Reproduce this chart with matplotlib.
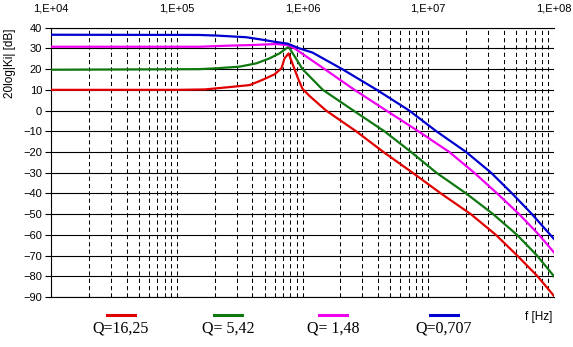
import matplotlib
matplotlib.use('Agg')
import matplotlib.pyplot as plt
from matplotlib.lines import Line2D
from matplotlib.ticker import FixedLocator, FixedFormatter, LogLocator, NullFormatter

# frequency response: f [Hz], 20log|Ki| [dB]
f_red = [1e4, 1e5, 1.67e5, 2.5e5, 3.8e5, 4.8e5, 6.0e5, 6.8e5, 7.2e5, 7.75e5, 8.4e5, 9.2e5,
         1.0e6, 1.14e6, 1.54e6, 2.67e6, 4.4e6, 7.5e6, 1.26e7, 2.18e7, 3.45e7, 5.1e7, 7.4e7, 1e8]
db_red = [10.0, 10.0, 10.2, 11.2, 12.3, 14.8, 17.5, 20.4, 25.2, 27.6, 22.0, 15.6,
          10.5, 7.0, 0, -10, -20, -30, -40, -50, -60, -70, -80, -89.5]

f_green = [1e4, 1.52e5, 2.07e5, 3.16e5, 4.3e5, 5.47e5, 6.56e5, 7.43e5, 7.75e5, 8.8e5,
           1.0e6, 1.45e6, 2.54e6, 4.48e6, 7.3e6, 1.16e7, 2.0e7, 3.28e7, 5.08e7, 7.33e7, 1e8]
db_green = [19.7, 20.0, 20.4, 21.2, 22.8, 25.2, 27.6, 30.0, 30.8, 25.5,
            20, 10, 0, -10, -20, -30, -40, -50, -60, -70, -80]

f_magenta = [1e4, 1.52e5, 2.48e5, 3.8e5, 6.18e5, 7.64e5, 8.65e5, 1.5e6, 2.59e6, 4.64e6,
             8.34e6, 1.47e7, 2.32e7, 3.53e7, 5.28e7, 7.6e7, 1e8]
db_magenta = [30.8, 30.8, 31.3, 31.6, 32.1, 31.6, 30.0, 20, 10, 0,
              -10, -20, -30, -40, -50, -60, -68.5]

f_blue = [1e4, 1.5e5, 2.08e5, 3.57e5, 4.8e5, 6.0e5, 7.6e5, 9.46e5, 1.2e6, 2.07e6, 3.9e6,
          7.06e6, 1.16e7, 2.0e7, 3.16e7, 4.64e7, 6.68e7, 1e8]
db_blue = [36.6, 36.5, 36.2, 35.4, 34.2, 33.2, 32.3, 30.0, 28.0, 20, 10,
           0, -10, -20, -30, -40, -50, -62]

labels = ['Q=16,25', 'Q= 5,42', 'Q= 1,48', 'Q=0,707']
colors = ['#e00000', '#107810', '#f000f0', '#0000d0']
xticks = [1e4, 1e5, 1e6, 1e7, 1e8]
xtick_labels = ['1,E+04', '1,E+05', '1,E+06', '1,E+07', '1,E+08']
yticks = list(range(-90, 41, 10))

W, H = 573, 347
fig = plt.figure(figsize=(W / 100, H / 100), dpi=100)
ax = fig.add_axes([51 / W, 50 / H, 503 / W, 269.3 / H])

series = [(f_red, db_red), (f_green, db_green), (f_magenta, db_magenta), (f_blue, db_blue)]
for (fx, dy), c in zip(series, colors):
    ax.plot(fx, dy, color=c, lw=1.6, zorder=3, solid_joinstyle='round')

ax.set_xscale('log')
ax.set_xlim(1e4, 1e8)
ax.set_ylim(-90, 40)

# horizontal solid grid, vertical dashed grid
ax.set_yticks(yticks)
ax.yaxis.grid(True, color='k', lw=0.8, ls='-')
ax.xaxis.set_major_locator(FixedLocator(xticks))
ax.xaxis.set_major_formatter(FixedFormatter(xtick_labels))
ax.xaxis.set_minor_locator(LogLocator(base=10, subs=range(2, 10)))
ax.xaxis.set_minor_formatter(NullFormatter())
ax.xaxis.grid(True, which='both', color='k', lw=0.75, ls=(0, (4, 3)))
ax.set_axisbelow(True)

ax.xaxis.tick_top()
ax.tick_params(axis='x', which='both', length=0, pad=10, labelsize=8)
ax.tick_params(axis='y', length=4, direction='out', pad=2.5, labelsize=8, width=0.8)
for lab in ax.get_xticklabels() + ax.get_yticklabels():
    lab.set_family('Liberation Sans')

ax.spines['right'].set_visible(False)
for s in ['left', 'top', 'bottom']:
    ax.spines[s].set_linewidth(0.8)
    ax.spines[s].set_color('k')

fig.text(10 / W, 1 - 63 / H, '20log|Ki| [dB]', rotation=90, ha='center', va='center',
         fontsize=8.5, family='Liberation Sans')
fig.text(539 / W, 1 - 317 / H, 'f [Hz]', ha='center', va='center',
         fontsize=8.5, family='Liberation Sans')

# legend: short line with the label beneath it
leg_x = [121, 228, 333, 444]
for xc, c, lab in zip(leg_x, colors, labels):
    fig.add_artist(Line2D([(xc - 14) / W, (xc + 14) / W], [1 - 315.3 / H] * 2,
                          color=c, lw=2.2, transform=fig.transFigure))
    fig.text(xc / W, 1 - 328.5 / H, lab, ha='center', va='center',
             fontsize=11.5, family='Liberation Serif')

fig.savefig('out.png', dpi=100)
